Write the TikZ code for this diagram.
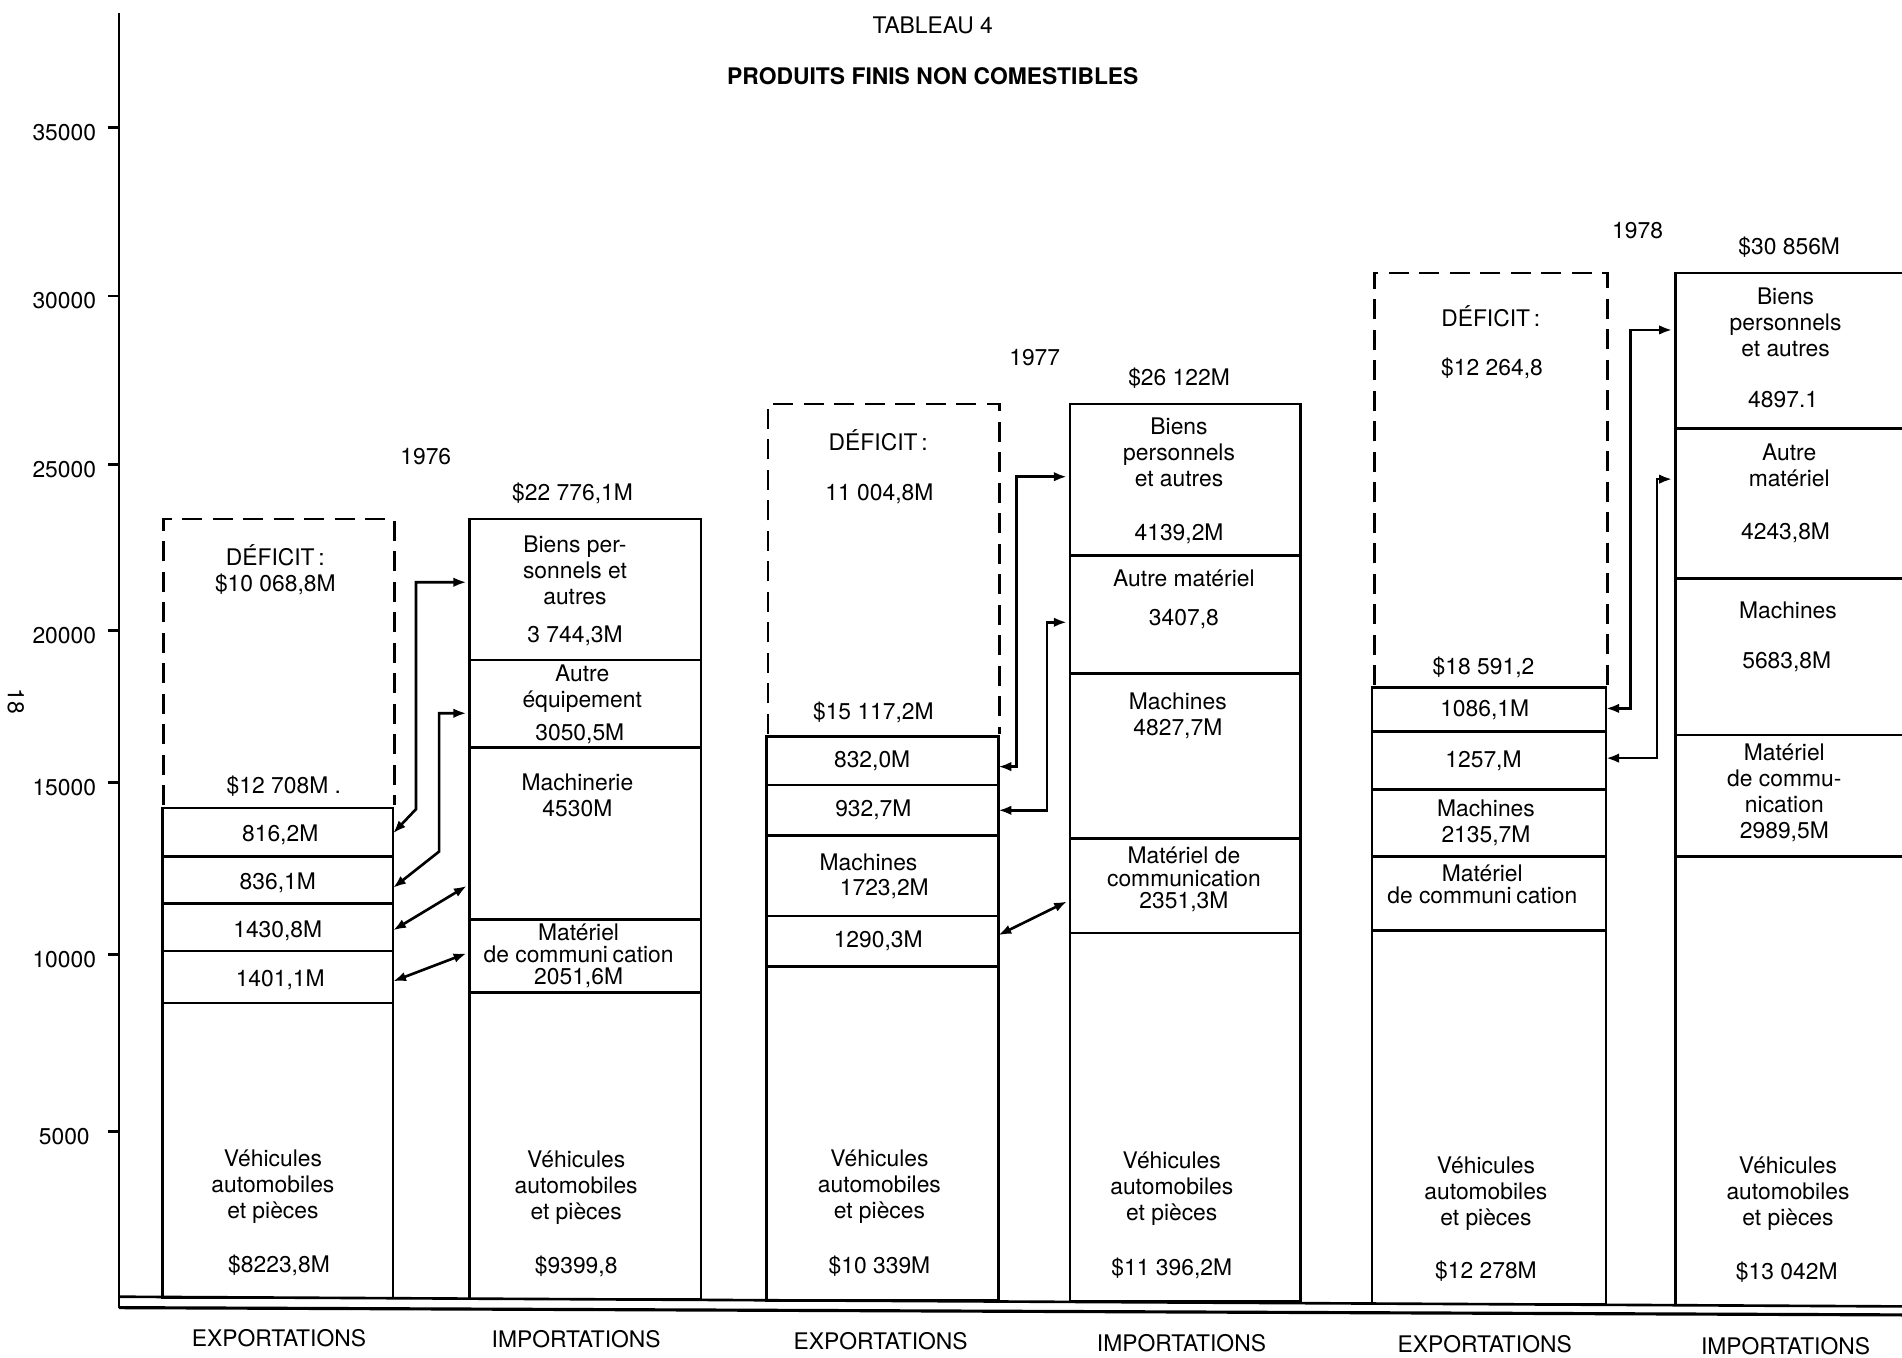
\documentclass[tikz,border=0pt]{standalone}
\usepackage{fontspec}
\setmainfont{TeX Gyre Heros}
\usetikzlibrary{arrows.meta}

\begin{document}
\begin{tikzpicture}[x=0.2426mm, y=-0.2426mm,
		every node/.style={font=\fontsize{13}{14.8}\selectfont},
		lbl/.style={align=center, inner sep=0pt},
		tight/.style={lbl, font=\fontsize{13}{12.7}\selectfont},
		bar/.style={line width=1.5pt},
		deficit/.style={line width=1.5pt, dash pattern=on 4mm off 2.1mm},
		link/.style={line width=1.5pt, shorten >=0.6mm, {Latex[length=2.6mm,width=1.9mm]}-{Latex[length=2.6mm,width=1.9mm]}}]
		\useasboundingbox (0,0) rectangle (1568,1119);
		%
		\node[lbl] (tab) at (769,21) {TABLEAU 4};
		\node[lbl, font=\fontsize{13}{14.8}\selectfont\bfseries] (titre) at (769,63) {PRODUITS FINIS NON COMESTIBLES};
		%
		\draw[bar] (98,11) -- (98,1078);
		\foreach \v/\y in {35000/105,30000/244,25000/383,20000/520,15000/645,10000/787,5000/933}{
			\draw[bar] (89,\y) -- (98,\y);
			\node[lbl] (ax\v) at (53,\y+4) {\v};
		}
		\node[lbl, rotate=-90] (page) at (13,578) {18};
		\draw[bar] (98,1069) -- (1568,1077);
		\draw[line width=1.8pt] (98,1078) -- (1568,1084);
		%
		% 1976
		\draw[bar] (134,666) rectangle (324,1070);
		\foreach \y in {706,745,784,827} \draw[bar] (134,\y) -- (324,\y);
		\draw[deficit] (135,664) -- (135,428) -- (325,428) -- (325,664);
		\draw[bar] (387,428) rectangle (578,1071);
		\foreach \y in {544,616,758,818} \draw[bar] (387,\y) -- (578,\y);
		%
		\node[lbl] (yr76) at (351,376) {1976};
		\node[lbl] (def76) at (227,470) {DÉFICIT\,:\\\$10 068,8M};
		\node[lbl] (tot76x) at (234,648) {\$12 708M .};
		\node[lbl] (e76a) at (231,688) {816,2M};
		\node[lbl] (e76b) at (229,728) {836,1M};
		\node[lbl] (e76c) at (229,767) {1430,8M};
		\node[lbl] (e76d) at (231,808) {1401,1M};
		\node[lbl] (v76x) at (225,978) {Véhicules\\automobiles\\et pièces};
		\node[lbl] (s76x) at (230,1043) {\$8223,8M};
		%
		\node[lbl] (tot76m) at (472,407) {\$22 776,1M};
		\node[lbl] (i76a) at (474,470) {Biens per-\\sonnels et\\autres};
		\node[lbl] (i76av) at (474,524) {3 744,3M};
		\node[lbl] (i76b) at (480,568) {Autre\\équipement};
		\node[lbl] (i76bv) at (478,605) {3050,5M};
		\node[lbl] (i76c) at (476,656) {Machinerie\\4530M};
		\node[tight] (i76d) at (477,788) {Matériel\\de communi\hspace{0.2em}cation\\2051,6M};
		\node[lbl] (v76m) at (475,979) {Véhicules\\automobiles\\et pièces};
		\node[lbl] (s76m) at (475,1044) {\$9399,8};
		%
		\coordinate (x76a) at (324,687);
		\coordinate (x76b) at (324,732);
		\coordinate (x76c) at (324,767);
		\coordinate (x76d) at (324,809);
		\coordinate (m76a) at (387,480);
		\coordinate (m76b) at (387,588);
		\coordinate (m76c) at (387,729);
		\coordinate (m76d) at (387,785);
		\draw[link] (x76a) -- ++(19,-20) |- (m76a);
		\draw[link] (x76b) -- ++(38,-30) |- (m76b);
		\draw[link] (x76c) -- (m76c);
		\draw[link] (x76d) -- (m76d);
		%
		% 1977
		\draw[bar] (632,607) rectangle (823,1072);
		\foreach \y in {647,689,755,797} \draw[bar] (632,\y) -- (823,\y);
		\draw[deficit] (633,605) -- (633,333) -- (824,333) -- (824,605);
		\draw[bar] (882,333) rectangle (1072,1073);
		\foreach \y in {458,555,691,769} \draw[bar] (882,\y) -- (1072,\y);
		%
		\node[lbl] (yr77) at (853,295) {1977};
		\node[lbl] (def77) at (724,363) {DÉFICIT\,:};
		\node[lbl] (def77v) at (725,407) {11 004,8M};
		\node[lbl] (tot77x) at (720,587) {\$15 117,2M};
		\node[lbl] (e77a) at (719,627) {832,0M};
		\node[lbl] (e77b) at (720,668) {932,7M};
		\node[lbl] (e77c) at (716,711) {Machines};
		\node[lbl] (e77cv) at (729,733) {1723,2M};
		\node[lbl] (e77d) at (724,776) {1290,3M};
		\node[lbl] (v77x) at (725,978) {Véhicules\\automobiles\\et pièces};
		\node[lbl] (s77x) at (725,1044) {\$10 339M};
		%
		\node[lbl] (tot77m) at (972,312) {\$26 122M};
		\node[lbl] (i77a) at (972,373) {Biens\\personnels\\et autres};
		\node[lbl] (i77av) at (972,440) {4139,2M};
		\node[lbl] (i77b) at (976,477) {Autre matériel};
		\node[lbl] (i77bv) at (976,510) {3407,8};
		\node[lbl] (i77c) at (971,590) {Machines\\4827,7M};
		\node[tight] (i77d) at (976,725) {Matériel de\\communication\\2351,3M};
		\node[lbl] (v77m) at (966,980) {Véhicules\\automobiles\\et pièces};
		\node[lbl] (s77m) at (966,1046) {\$11 396,2M};
		%
		\coordinate (x77a) at (823,632);
		\coordinate (x77b) at (823,668);
		\coordinate (x77c) at (823,771);
		\coordinate (m77a) at (882,393);
		\coordinate (m77b) at (882,513);
		\coordinate (m77c) at (882,742);
		\draw[link] (x77a) -- ++(15,0) |- (m77a);
		\draw[link] (x77b) -- ++(40,0) |- (m77b);
		\draw[link] (x77c) -- (m77c);
		%
		% 1978
		\draw[bar] (1131,567) rectangle (1324,1075);
		\foreach \y in {603,651,706,767} \draw[bar] (1131,\y) -- (1324,\y);
		\draw[deficit] (1133,565) -- (1133,225) -- (1325,225) -- (1325,565);
		\draw[bar] (1568,225) -- (1381,225) -- (1381,1076);
		\foreach \y in {353,477,606,706} \draw[bar] (1381,\y) -- (1568,\y);
		%
		\node[lbl] (yr78) at (1350,190) {1978};
		\node[lbl] (def78) at (1229,261) {DÉFICIT\,:};
		\node[lbl] (def78v) at (1230,304) {\$12 264,8};
		\node[lbl] (tot78x) at (1223,550) {\$18 591,2};
		\node[lbl] (e78a) at (1224,585) {1086,1M};
		\node[lbl] (e78b) at (1223,627) {1257,M};
		\node[lbl] (e78c) at (1225,678) {Machines\\2135,7M};
		\node[tight] (e78d) at (1222,729) {Matériel\\de communi\hspace{0.2em}cation};
		\node[lbl] (v78x) at (1225,984) {Véhicules\\automobiles\\et pièces};
		\node[lbl] (s78x) at (1225,1048) {\$12 278M};
		%
		\node[lbl] (tot78m) at (1475,204) {\$30 856M};
		\node[lbl] (i78a) at (1472,266) {Biens\\personnels\\et autres};
		\node[lbl] (i78av) at (1470,329) {4897.1};
		\node[lbl] (i78b) at (1475,384) {Autre\\matériel};
		\node[lbl] (i78bv) at (1472,439) {4243,8M};
		\node[lbl] (i78c) at (1474,503) {Machines};
		\node[lbl] (i78cv) at (1473,546) {5683,8M};
		\node[lbl] (i78d) at (1471,654) {Matériel\\de commu-\\nication\\2989,5M};
		\node[lbl] (v78m) at (1474,984) {Véhicules\\automobiles\\et pièces};
		\node[lbl] (s78m) at (1473,1049) {\$13 042M};
		%
		\coordinate (x78a) at (1324,584);
		\coordinate (x78b) at (1324,625);
		\coordinate (m78a) at (1381,272);
		\coordinate (m78b) at (1381,395);
		\draw[link] (x78a) -- ++(20,0) |- (m78a);
		\draw[link] (x78b) -- ++(42,0) |- (m78b);
		%
		\node[lbl] (exp76) at (230,1103) {EXPORTATIONS};
		\node[lbl] (imp76) at (475,1104) {IMPORTATIONS};
		\node[lbl] (exp77) at (726,1106) {EXPORTATIONS};
		\node[lbl] (imp77) at (974,1107) {IMPORTATIONS};
		\node[lbl] (exp78) at (1224,1108) {EXPORTATIONS};
		\node[lbl] (imp78) at (1472,1110) {IMPORTATIONS};
		%
\end{tikzpicture}
\end{document}
